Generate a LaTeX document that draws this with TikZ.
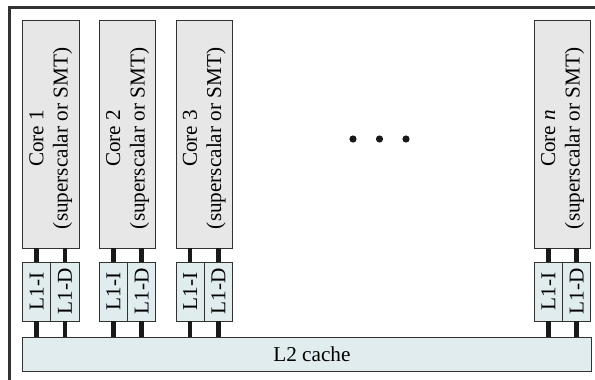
\documentclass[tikz,border=0pt]{standalone}
\usepackage{fontspec}
\setmainfont{Liberation Serif}
\definecolor{corefill}{RGB}{231,231,231}
\definecolor{cachefill}{RGB}{225,236,239}
\definecolor{edge}{RGB}{50,50,50}
\begin{document}
\begin{tikzpicture}[x=0.5pt,y=-0.5pt,
  corebox/.style={draw=edge, fill=corefill, line width=0.5pt, minimum width=28.25pt,
    minimum height=113.65pt, inner sep=0pt, outer sep=0pt, anchor=north west},
  l1box/.style={draw=edge, fill=cachefill, line width=0.5pt, minimum width=14.125pt,
    minimum height=29.5pt, inner sep=0pt, outer sep=0pt, anchor=north west},
  l2box/.style={draw=edge, fill=cachefill, line width=0.5pt, minimum width=284.6pt,
    minimum height=17.2pt, inner sep=0pt, outer sep=0pt, anchor=north west},
  lbl/.style={rotate=90, align=center, inner sep=0pt, font=\fontsize{10.6}{12.2}\selectfont},
  bus/.style={line width=2.3pt, black!90},
  frame/.style={line width=1.2pt, draw=edge}
]
\useasboundingbox (0,0) rectangle (595,380);
\begin{scope}
\clip (0,0) rectangle (595,380);
\draw[frame] (9.5,7.5) rectangle (620,400);
\end{scope}

% L2 cache
\node[l2box] (l2) at (22.3,337.3) {};
\node[inner sep=0pt, font=\fontsize{10.6}{12.2}\selectfont] at ([xshift=2.5pt]l2.center) {L2 cache};

% cores and L1 caches
\foreach \name/\x/\lab in {c1/22.5/{Core 1}, c2/99.3/{Core 2}, c3/176/{Core 3}, cn/534.3/{Core \textit{n}}}{
  \node[corebox] (\name) at (\x,20.7) {};
  \node[lbl] at ([yshift=-2pt]\name.center) {\lab\\(superscalar or SMT)};
  \node[l1box] (\name i) at (\x,262) {};
  \node[l1box, anchor=north west] (\name d) at (\name i.north east) {};
  \node[lbl] at (\name i.center) {L1-I};
  \node[lbl] at (\name d.center) {L1-D};
  \draw[bus] (\name i.north) -- (\name i.north |- \name.south);
  \draw[bus] (\name d.north) -- (\name d.north |- \name.south);
  \draw[bus] (\name i.south) -- (\name i.south |- l2.north);
  \draw[bus] (\name d.south) -- (\name d.south |- l2.north);
}

% ellipsis
\foreach \x in {353,379.5,406}{
  \fill[black!90] (\x,139) circle (1.8pt);
}
\end{tikzpicture}
\end{document}
